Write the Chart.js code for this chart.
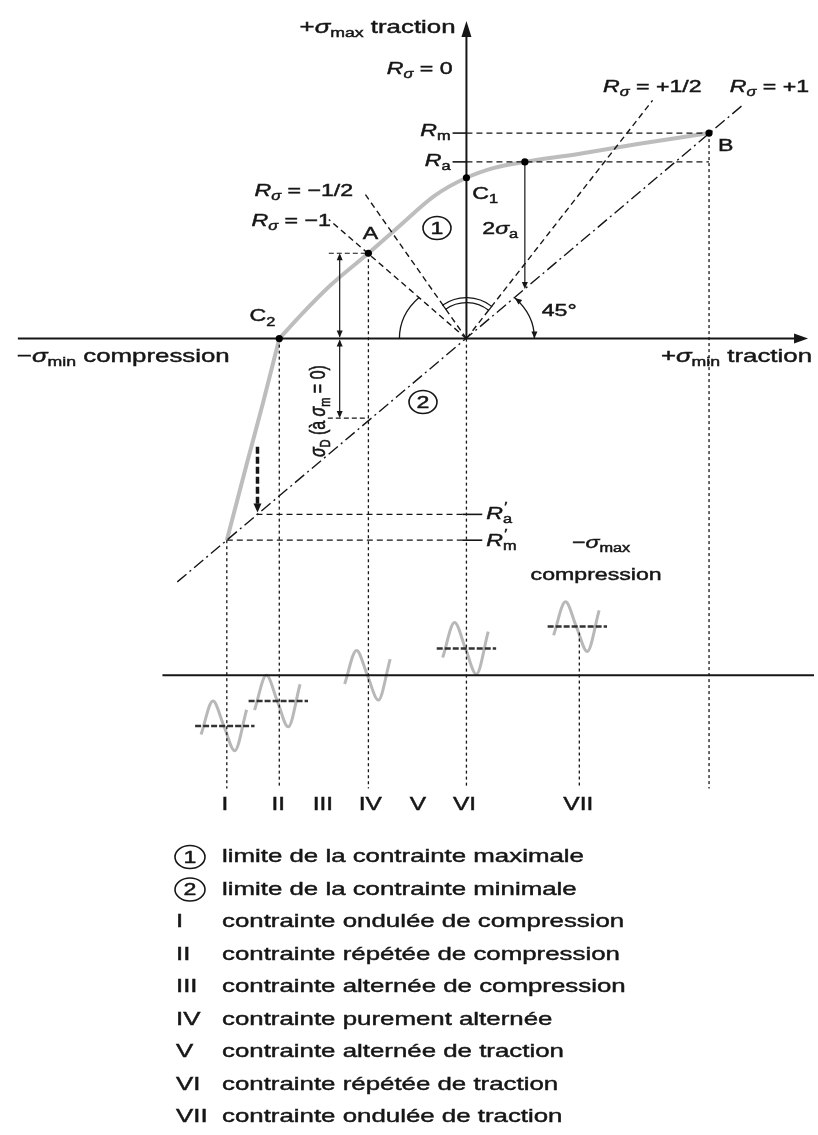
<!DOCTYPE html>
<html lang="fr">
<head>
<meta charset="UTF-8">
<title>Diagramme de Smith - endurance</title>
<script src="https://cdn.jsdelivr.net/npm/chart.js"></script>
<style>
  body { margin: 0; background: #fff; }
  canvas { display: block; }
</style>
</head>
<body>
<canvas id="diagramme" width="818" height="1135"></canvas>
<script>
// Repère : origine au croisement des axes sigma_min / sigma_max, 1 unité = 1 px

// courbe (1) : limite de la contrainte maximale, au-dessus de C2 puis sous C2
const limiteHautX = [-189, -167, -137, -99, -67, -32, 0, 28, 59, 113, 173, 245];
const limiteHautY = [0, 24, 54, 86, 114, 144, 162, 172, 178, 186, 196, 207];
const limiteBasX = [-242, -221, -205, -189];
const limiteBasY = [-203, -123, -63, 0];

// points remarquables
const pointsNoms = ['C2', 'A', 'C1', 'Ra', 'B'];
const pointsX = [-189, -99, 0, 59, 245];
const pointsY = [0, 86, 162, 178, 207];

// droites de rapport R_sigma
const rapports = ['+1', '+1/2', '-1/2', '-1'];
const rapportDebutX = [-292, 0, 0, 0];
const rapportDebutY = [-245, 0, 0, 0];
const rapportFinX = [280, 188, -102, -139];
const rapportFinY = [236, 240, 145, 120];

// niveaux Rm, Ra, R'a, R'm
const niveauxNoms = ['Rm', 'Ra', "R'a", "R'm"];
const niveauxY = [207, 178, -177, -203];
const niveauxDebutX = [0, 0, -212, -242];
const niveauxFinX = [245, 245, 0, 0];

// verticales des régimes de contrainte
const regimes = ['I', 'II', 'III', 'IV', 'V', 'VI', 'VII'];
const regimesX = [-244, -190, -145, -97, -49, -2, 113];
const verticalesX = [-242, -189, -99, 0, 114, 245];
const verticalesHautY = [-203, 0, 86, 0, -296, 207];
const verticalesBasY = -453;

// petits cycles sinusoïdaux (I, II, IV, VI, VII)
const cyclesX = [-244, -190, -99, 0, 112];
const cyclesMoyenne = [-390, -365, -339, -312, -290];
const cyclesAmplitude = [25, 26, 25, 26, 25];
const cyclesTraitMoyen = [true, true, false, true, true];
const ondeDx = [-24, -12, -1, 10, 22];
const ondeDy = [-0.35, 1, 0, -1, 0.65];

// légende
const legendeRepere = ['1', '2', 'I', 'II', 'III', 'IV', 'V', 'VI', 'VII'];
const legendeTexte = [
  'limite de la contrainte maximale',
  'limite de la contrainte minimale',
  'contrainte ondulée de compression',
  'contrainte répétée de compression',
  'contrainte alternée de compression',
  'contrainte purement alternée',
  'contrainte alternée de traction',
  'contrainte répétée de traction',
  'contrainte ondulée de traction'
];

const NOIR = '#161616';
const GRIS = '#bdbdbd';
const SX = 1.36; // lettrage étiré horizontalement
const POLICE = '"Liberation Sans", Arial, sans-serif';

function pts(xs, ys) { return xs.map((x, i) => ({ x: x, y: ys[i] })); }
function trait(data, opts) {
  return Object.assign({
    data: data, showLine: true, pointRadius: 0, borderColor: NOIR,
    borderWidth: 1.4, fill: false, order: 3
  }, opts || {});
}

const ds = [];
// axes
ds.push(trait([{ x: -453, y: 0 }, { x: 338, y: 0 }], { borderWidth: 2 }));
ds.push(trait([{ x: 0, y: 0 }, { x: 0, y: 312 }], { borderWidth: 2 }));
ds.push(trait([{ x: -307, y: -339 }, { x: 351, y: -339 }], { borderWidth: 2 }));

// courbe limite (1)
ds.push(trait(pts(limiteHautX, limiteHautY), { borderColor: GRIS, borderWidth: 4, cubicInterpolationMode: 'monotone', order: 6 }));
ds.push(trait(pts(limiteBasX, limiteBasY), { borderColor: GRIS, borderWidth: 4, cubicInterpolationMode: 'monotone', order: 6 }));

// droites R_sigma
rapports.forEach((r, i) => {
  ds.push(trait([{ x: rapportDebutX[i], y: rapportDebutY[i] }, { x: rapportFinX[i], y: rapportFinY[i] }],
    { borderDash: i === 0 ? [12, 4, 2, 4] : [6, 4], borderWidth: 1.4 }));
});

// niveaux horizontaux + repères sur l'axe
niveauxNoms.forEach((n, i) => {
  ds.push(trait([{ x: niveauxDebutX[i], y: niveauxY[i] }, { x: niveauxFinX[i], y: niveauxY[i] }], { borderDash: [6, 4], borderWidth: 1.3 }));
  const tic = i < 2 ? [-14, 0] : [-4, 16];
  ds.push(trait([{ x: tic[0], y: niveauxY[i] }, { x: tic[1], y: niveauxY[i] }], { borderWidth: 1.6 }));
});

// verticales pointillées
verticalesX.forEach((x, i) => {
  ds.push(trait([{ x: x, y: verticalesHautY[i] }, { x: x, y: verticalesBasY }], { borderDash: [3, 3], borderWidth: 1.3 }));
});

// tirets courts au niveau de A et de son symétrique
ds.push(trait([{ x: -139, y: 86 }, { x: -99, y: 86 }], { borderDash: [5, 3], borderWidth: 1.2 }));
ds.push(trait([{ x: -140, y: -80 }, { x: -99, y: -80 }], { borderDash: [5, 3], borderWidth: 1.2 }));

// cotes sigma_D et 2 sigma_a
ds.push(trait([{ x: -128, y: 84 }, { x: -128, y: 2 }], { borderWidth: 1.2 }));
ds.push(trait([{ x: -128, y: -2 }, { x: -128, y: -78 }], { borderWidth: 1.2 }));
ds.push(trait([{ x: 59, y: 178 }, { x: 59, y: 54 }], { borderWidth: 1.2 }));

// tireté épais de la courbe vers la droite à 45°
ds.push(trait([{ x: -211, y: -109 }, { x: -211, y: -168 }], { borderDash: [7, 3], borderWidth: 3.5 }));

// cycles de contrainte
cyclesX.forEach((cx, i) => {
  const onde = ondeDx.map((dx, k) => ({ x: cx + dx, y: cyclesMoyenne[i] + ondeDy[k] * cyclesAmplitude[i] }));
  ds.push(trait(onde, { borderColor: '#b8b8b8', borderWidth: 3, cubicInterpolationMode: 'monotone', order: 5 }));
  if (cyclesTraitMoyen[i]) {
    ds.push(trait([{ x: cx - 30, y: cyclesMoyenne[i] }, { x: cx + 30, y: cyclesMoyenne[i] }],
      { borderDash: [6, 2], borderWidth: 2.5, borderColor: '#333', order: 4 }));
  }
});

// points noirs
ds.push({ data: pts(pointsX, pointsY), showLine: false, pointRadius: 3.6, pointBackgroundColor: '#000', pointBorderWidth: 0, order: 0 });

function fontePour(st, taille) {
  const it = st.indexOf('i') >= 0 ? 'italic ' : '';
  const petit = st.indexOf('s') >= 0 || st === 'p';
  return it + Math.round(petit ? taille * 0.68 : taille) + 'px ' + POLICE;
}

// texte composé : [texte, style] avec n normal, i italique, s indice, si indice italique, p prime
function texte(ctx, segs, x, y, align, taille, opts) {
  opts = opts || {};
  ctx.save();
  ctx.fillStyle = NOIR;
  ctx.strokeStyle = NOIR;
  ctx.lineWidth = 0.45;
  ctx.textBaseline = 'middle';
  ctx.textAlign = 'left';
  let w = 0;
  segs.forEach(s => { if (s[1] !== 'p') { ctx.font = fontePour(s[1], taille); w += ctx.measureText(s[0]).width; } });
  ctx.translate(x, y);
  if (opts.rot) { ctx.rotate(opts.rot); ctx.scale(1, SX); } else { ctx.scale(SX, 1); }
  let cx = align === 'right' ? -w : align === 'center' ? -w / 2 : 0;
  segs.forEach(s => {
    ctx.font = fontePour(s[1], taille);
    const dy = s[1].indexOf('s') >= 0 ? taille * 0.32 : s[1] === 'p' ? -taille * 0.38 : 0;
    const tx = cx + (s[1] === 'p' ? 1 : 0);
    ctx.fillText(s[0], tx, dy);
    ctx.strokeText(s[0], tx, dy);
    if (s[1] !== 'p') cx += ctx.measureText(s[0]).width;
  });
  ctx.restore();
}

function pointe(ctx, x, y, ang, long, demi) {
  ctx.save();
  ctx.translate(x, y);
  ctx.rotate(ang);
  ctx.beginPath();
  ctx.moveTo(0, 0);
  ctx.lineTo(-long, -demi);
  ctx.lineTo(-long, demi);
  ctx.closePath();
  ctx.fill();
  ctx.restore();
}

function repereRond(ctx, x, y, chiffre, rx, ry) {
  ctx.save();
  ctx.strokeStyle = NOIR;
  ctx.lineWidth = 1.6;
  ctx.beginPath();
  ctx.ellipse(x, y, rx, ry, 0, 0, Math.PI * 2);
  ctx.stroke();
  ctx.restore();
  texte(ctx, [[chiffre, 'n']], x, y + 1, 'center', 17);
}

const habillage = {
  id: 'habillage',
  afterDatasetsDraw(chart) {
    const ctx = chart.ctx, xs = chart.scales.x, ys = chart.scales.y;
    const P = (X, Y) => [xs.getPixelForValue(X), ys.getPixelForValue(Y)];
    const [ox, oy] = P(0, 0);
    ctx.save();
    ctx.fillStyle = NOIR;
    ctx.strokeStyle = NOIR;

    // flèches des axes
    let p = P(0, 320); pointe(ctx, p[0], p[1], -Math.PI / 2, 16, 5);
    p = P(345, 0); pointe(ctx, p[0], p[1], 0, 14, 5);
    // cotes
    p = P(-128, 86); pointe(ctx, p[0], p[1], -Math.PI / 2, 7, 3);
    p = P(-128, 0); pointe(ctx, p[0], p[1] - 1, Math.PI / 2, 7, 3);
    p = P(-128, 0); pointe(ctx, p[0], p[1] + 1, -Math.PI / 2, 7, 3);
    p = P(-128, -80); pointe(ctx, p[0], p[1], Math.PI / 2, 7, 3);
    p = P(59, 50); pointe(ctx, p[0], p[1], Math.PI / 2, 7, 3);
    p = P(-211, -175); pointe(ctx, p[0], p[1], Math.PI / 2, 9, 4);

    // arcs d'angle
    ctx.lineWidth = 1.3;
    ctx.beginPath();
    ctx.ellipse(ox, oy, 68, 58, 0, -0.778, 0);
    ctx.stroke();
    pointe(ctx, ox + 68, oy, Math.PI / 2, 7, 3);
    pointe(ctx, ox + 68 * Math.cos(0.778), oy - 58 * Math.sin(0.778), -Math.PI / 2 - 0.9, 7, 3);
    ctx.beginPath();
    ctx.ellipse(ox, oy, 67, 58, 0, -Math.PI, -2.356);
    ctx.stroke();
    // double arc entre les droites -1/2 et +1/2
    const a0 = -Math.atan2(145, -102), a1 = -Math.atan2(240, 188);
    ctx.lineWidth = 1.2;
    ctx.beginPath();
    ctx.arc(ox, oy, 36, a0, a1);
    ctx.arc(ox, oy, 41, a1, a0, true);
    ctx.closePath();
    ctx.stroke();

    // repères ronds
    repereRond(ctx, 437, 228, '1', 14, 11.5);
    repereRond(ctx, 423, 402, '2', 14, 11.5);

    // étiquettes du diagramme
    const T = (segs, X, Y, align, taille, opts) => { const q = P(X, Y); texte(ctx, segs, q[0], q[1], align, taille, opts); };
    T([['+', 'n'], ['σ', 'i'], ['max', 's'], [' traction', 'n']], -11, 313, 'right', 19);
    T([['R', 'i'], ['σ', 'si'], [' = 0', 'n']], -14, 271, 'right', 17);
    T([['R', 'i'], ['σ', 'si'], [' = +1/2', 'n']], 138, 253, 'left', 17);
    T([['R', 'i'], ['σ', 'si'], [' = +1', 'n']], 266, 253, 'left', 17);
    T([['R', 'i'], ['m', 's']], -16, 209, 'right', 17);
    T([['R', 'i'], ['a', 's']], -16, 179, 'right', 17);
    T([['B', 'n']], 254, 194, 'left', 17);
    T([['C', 'n'], ['1', 's']], 6, 145, 'left', 17);
    T([['2', 'n'], ['σ', 'i'], ['a', 's']], 16, 110, 'left', 17);
    T([['R', 'i'], ['σ', 'si'], [' = −1/2', 'n']], -214, 148, 'left', 17);
    T([['R', 'i'], ['σ', 'si'], [' = −1', 'n']], -217, 118, 'left', 17);
    T([['A', 'n']], -97, 105, 'center', 17);
    T([['45°', 'n']], 76, 28, 'left', 17);
    T([['C', 'n'], ['2', 's']], -219, 22, 'left', 17);
    T([['−', 'n'], ['σ', 'i'], ['min', 's'], [' compression', 'n']], -454, -18, 'left', 19);
    T([['+', 'n'], ['σ', 'i'], ['min', 's'], [' traction', 'n']], 349, -18, 'right', 19);
    T([['R', 'i'], ['\u2032', 'p'], ['a', 's']], 20, -177, 'left', 17);
    T([['R', 'i'], ['\u2032', 'p'], ['m', 's']], 20, -204, 'left', 17);
    T([['−', 'n'], ['σ', 'i'], ['max', 's']], 136, -206, 'center', 17);
    T([['compression', 'n']], 131, -238, 'center', 17);
    T([['σ', 'i'], ['D', 's'], [' (à ', 'n'], ['σ', 'i'], ['m', 's'], [' = 0)', 'n']], -149, -73, 'center', 16, { rot: -Math.PI / 2 });

    // régimes sous les verticales
    regimes.forEach((r, i) => T([[r, 'n']], regimesX[i], -470, 'center', 18));

    ctx.restore();

    // légende
    legendeRepere.forEach((r, i) => {
      const y = 857 + i * 32.5;
      if (i < 2) repereRond(ctx, 190, y, r, 15, 11.5);
      else texte(ctx, [[r, 'n']], 176, y, 'left', 18.5);
      texte(ctx, [[legendeTexte[i], 'n']], 222, y, 'left', 18.5);
    });
  }
};

new Chart(document.getElementById('diagramme'), {
  type: 'scatter',
  data: { datasets: ds },
  options: {
    responsive: false,
    devicePixelRatio: 1,
    animation: false,
    events: [],
    layout: { padding: 0 },
    plugins: { legend: { display: false }, tooltip: { enabled: false } },
    scales: {
      x: { type: 'linear', min: -467, max: 351, display: false },
      y: { type: 'linear', min: -798, max: 337, display: false }
    }
  },
  plugins: [habillage]
});
</script>
</body>
</html>
